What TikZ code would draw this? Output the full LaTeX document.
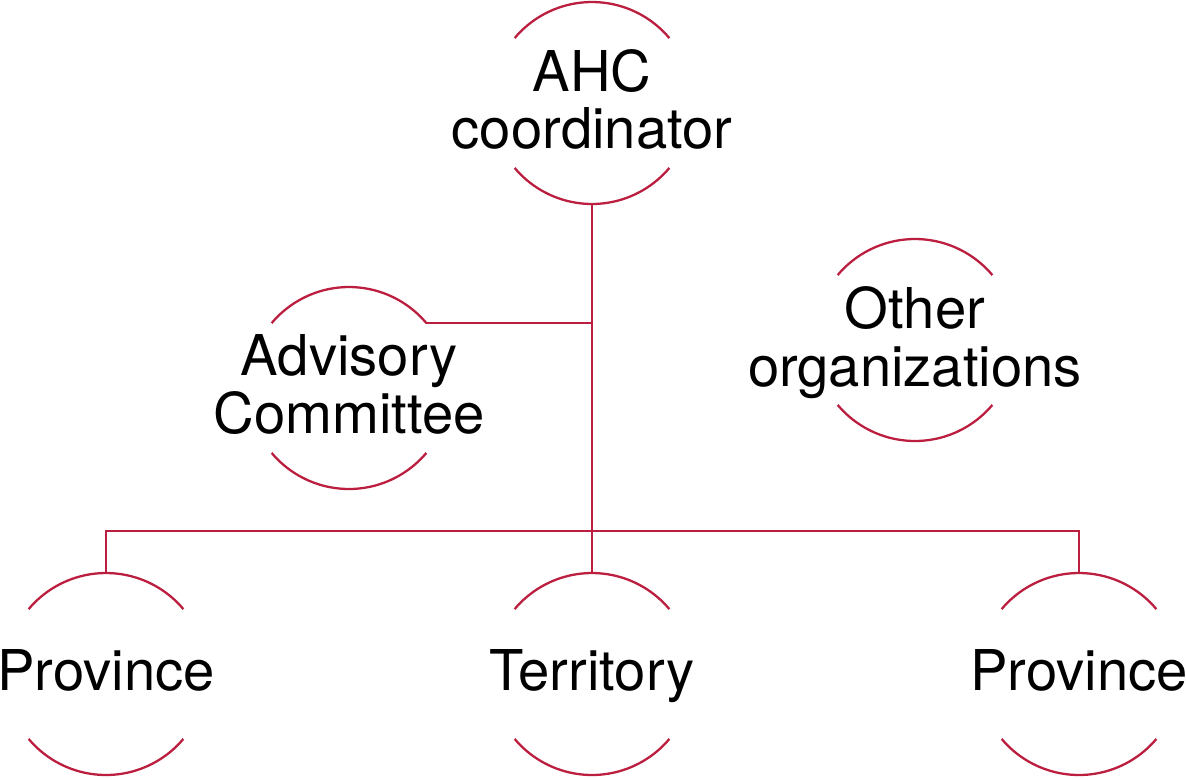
\documentclass[tikz,border=0pt]{standalone}
\usepackage{fontspec}
\setmainfont{TeX Gyre Heros}
\definecolor{ahcred}{RGB}{187,30,62}
\tikzset{
  unit/.style={circle, minimum size=4.04cm, inner sep=0pt, outer sep=0pt},
  unitlabel/.style={align=center, text depth=0pt, yshift=0.08cm, font=\fontsize{32}{33}\selectfont},
  link/.style={draw=ahcred, line width=1.3pt},
}
\newcommand{\unitring}[1]{\draw[link] (#1.40) arc[start angle=40, end angle=140, radius=2.02cm]
  (#1.220) arc[start angle=220, end angle=320, radius=2.02cm];}

\begin{document}
\begin{tikzpicture}[x=0.02cm, y=-0.02cm]
    \useasboundingbox (0,0) rectangle (1186,779);
    \node[unit, label={[unitlabel]center:AHC\\coordinator}] (ahc) at (592,103) {};
    \node[unit, label={[unitlabel]center:Advisory\\Committee}] (adv) at (349,388) {};
    \node[unit, label={[unitlabel]center:Other\\organizations}] (other) at (915,340) {};
    \node[unit, label={[unitlabel]center:Province}] (prov1) at (106,674) {};
    \node[unit, label={[unitlabel]center:Territory}] (terr) at (592,674) {};
    \node[unit, label={[unitlabel]center:Province}] (prov2) at (1079,674) {};
    \foreach \u in {ahc, adv, other, prov1, terr, prov2} {\unitring{\u}}
    \coordinate (bus) at (592,531);
    \draw[link] (ahc.south) -- (terr.north);
    \draw[link] (prov1.north) |- (bus) -| (prov2.north);
    \draw[link] (adv.40) -- (adv.40 -| ahc.south);
\end{tikzpicture}
\end{document}
